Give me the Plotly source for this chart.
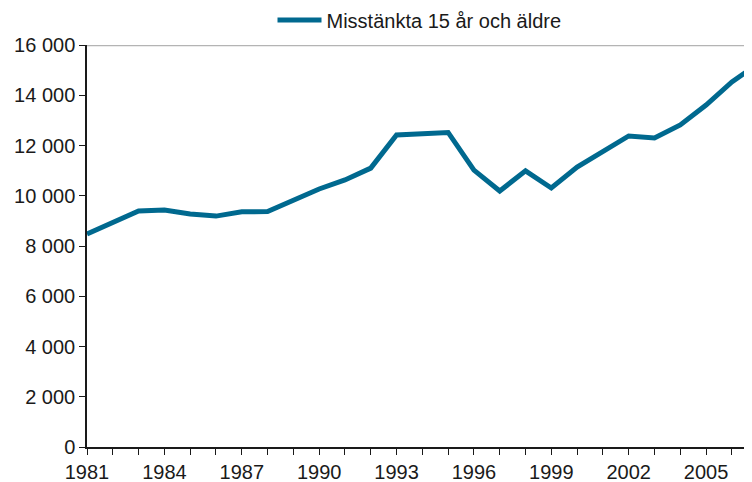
import plotly.graph_objects as go

years = list(range(1981, 2008))
suspects = [8480, 8950, 9390, 9430, 9270, 9190, 9360, 9370, 9830, 10270,
            10630, 11100, 12420, 12460, 12520, 11020, 10190, 10990, 10310, 11140,
            11740, 12380, 12300, 12820, 13610, 14530, 15240]
series_name = "Misstänkta 15 år och äldre"
y_ticks = list(range(0, 16001, 2000))

font_family = "Liberation Sans, Arial, Helvetica, sans-serif"

fig = go.Figure()
fig.add_trace(go.Scatter(
    x=years, y=suspects, mode="lines", name=series_name,
    line=dict(color="#00698f", width=5),
))

fig.add_shape(type="line", xref="paper", yref="y", x0=0, x1=1, y0=16000, y1=16000,
              line=dict(color="#b4b4b4", width=2.5), layer="below")

fig.update_layout(
    width=744, height=474,
    margin=dict(l=79, r=0, t=37, b=35, autoexpand=False),
    paper_bgcolor="white", plot_bgcolor="white",
    font=dict(family=font_family, size=20, color="#1a1a1a"),
    separators=", ",
    showlegend=True,
    legend=dict(orientation="h", x=0.5, xanchor="center", xref="paper",
                y=1.062, yanchor="middle",
                font=dict(size=20), itemwidth=44,
                bgcolor="rgba(0,0,0,0)"),
    xaxis=dict(range=[1981, 2006.78], tick0=1981, dtick=3, ticks="outside",
               ticklen=6, tickcolor="#1a1a1a", showline=True, linecolor="#1a1a1a",
               linewidth=1.5, showgrid=False, zeroline=False,
               minor=dict(dtick=1, tick0=1981, ticks="outside", ticklen=6,
                          tickcolor="#1a1a1a", showgrid=False)),
    yaxis=dict(range=[0, 16000], tickvals=y_ticks, tickformat=",d", ticks="outside",
               ticklen=6, tickcolor="#1a1a1a", showline=True, linecolor="#1a1a1a",
               linewidth=1.5, showgrid=False, zeroline=False),
)

fig.write_html("out.html")
